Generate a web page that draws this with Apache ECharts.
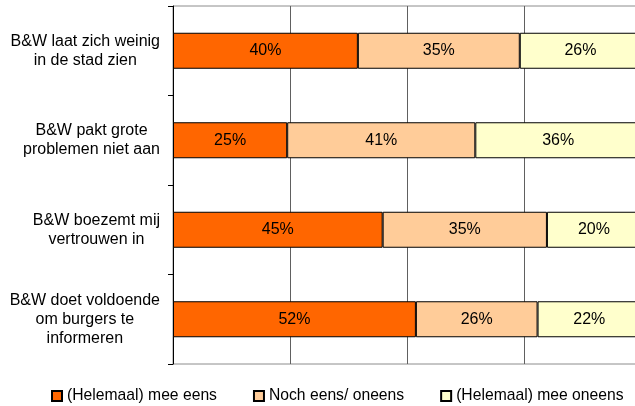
<!DOCTYPE html>
<html>
<head>
<meta charset="utf-8">
<script src="https://cdn.jsdelivr.net/npm/echarts@6/dist/echarts.min.js"></script>
<style>
html,body{margin:0;padding:0;background:#fff;}
#chart{width:635px;height:406px;}
</style>
</head>
<body>
<div id="chart"></div>
<script>
var categories = [
  'B&W laat zich weinig\nin de stad zien',
  'B&W pakt grote\nproblemen niet aan',
  'B&W boezemt mij\nvertrouwen in',
  'B&W doet voldoende\nom burgers te\ninformeren'
];
var seriesNames = ['(Helemaal) mee eens', 'Noch eens/ oneens', '(Helemaal) mee oneens'];
// segment lengths (percent)
var eens = [39.5, 24.4, 44.8, 51.9];
var noch = [34.6, 40.2, 35.1, 26.0];
var oneens = [25.9, 35.4, 20.1, 22.1];
// printed labels
var eensLabels = ['40%', '25%', '45%', '52%'];
var nochLabels = ['35%', '41%', '35%', '26%'];
var oneensLabels = ['26%', '36%', '20%', '22%'];
var xTicks = [0, 25, 50, 75, 100];

var colors = ['#FF6600', '#FFCC99', '#FFFFCC'];
var FONT = "'Liberation Sans', Arial, sans-serif";

function mk(name, data, labels, color) {
  return {
    name: name,
    type: 'bar',
    stack: 'total',
    data: data,
    barWidth: 36,
    itemStyle: { color: color, borderColor: '#000', borderWidth: 1 },
    label: {
      show: true,
      position: 'inside',
      color: '#000',
      fontFamily: FONT,
      fontSize: 16,
      formatter: function (p) { return labels[p.dataIndex]; }
    },
    emphasis: { disabled: true },
    animation: false
  };
}

var chart = echarts.init(document.getElementById('chart'), null, { renderer: 'canvas' });
chart.setOption({
  backgroundColor: '#fff',
  animation: false,
  textStyle: { fontFamily: FONT },
  grid: {
    left: 173, top: 6, width: 468, height: 358,
    outerBoundsMode: 'none',
    containLabel: false,
    show: true, borderColor: '#8c8c8c', borderWidth: 1, backgroundColor: 'transparent'
  },
  legend: {
    left: 51, top: 388, width: 620, padding: 0,
    itemWidth: 10, itemHeight: 10, itemGap: 36,
    icon: 'rect',
    textStyle: { fontFamily: FONT, fontSize: 15.7, color: '#000' },
    data: seriesNames
  },
  xAxis: {
    type: 'value',
    min: xTicks[0], max: xTicks[xTicks.length - 1], interval: xTicks[1] - xTicks[0],
    axisLine: { show: false },
    axisTick: { show: false },
    axisLabel: { show: false },
    splitLine: { show: true, lineStyle: { color: '#606060', width: 1 } }
  },
  yAxis: {
    type: 'category',
    inverse: true,
    data: categories,
    axisLine: { show: true, lineStyle: { color: '#000', width: 1 } },
    axisTick: { show: true, length: 5, lineStyle: { color: '#000' } },
    axisLabel: {
      margin: 13,
      align: 'right',
      formatter: function (v) {
        return v.split('\n').map(function (l) { return '{c|' + l + '}'; }).join('\n');
      },
      rich: {
        c: { align: 'center', fontFamily: FONT, fontSize: 16, lineHeight: 19, color: '#000' }
      }
    },
    splitLine: { show: false }
  },
  series: [
    mk(seriesNames[0], eens, eensLabels, colors[0]),
    mk(seriesNames[1], noch, nochLabels, colors[1]),
    mk(seriesNames[2], oneens, oneensLabels, colors[2])
  ]
});
</script>
</body>
</html>
